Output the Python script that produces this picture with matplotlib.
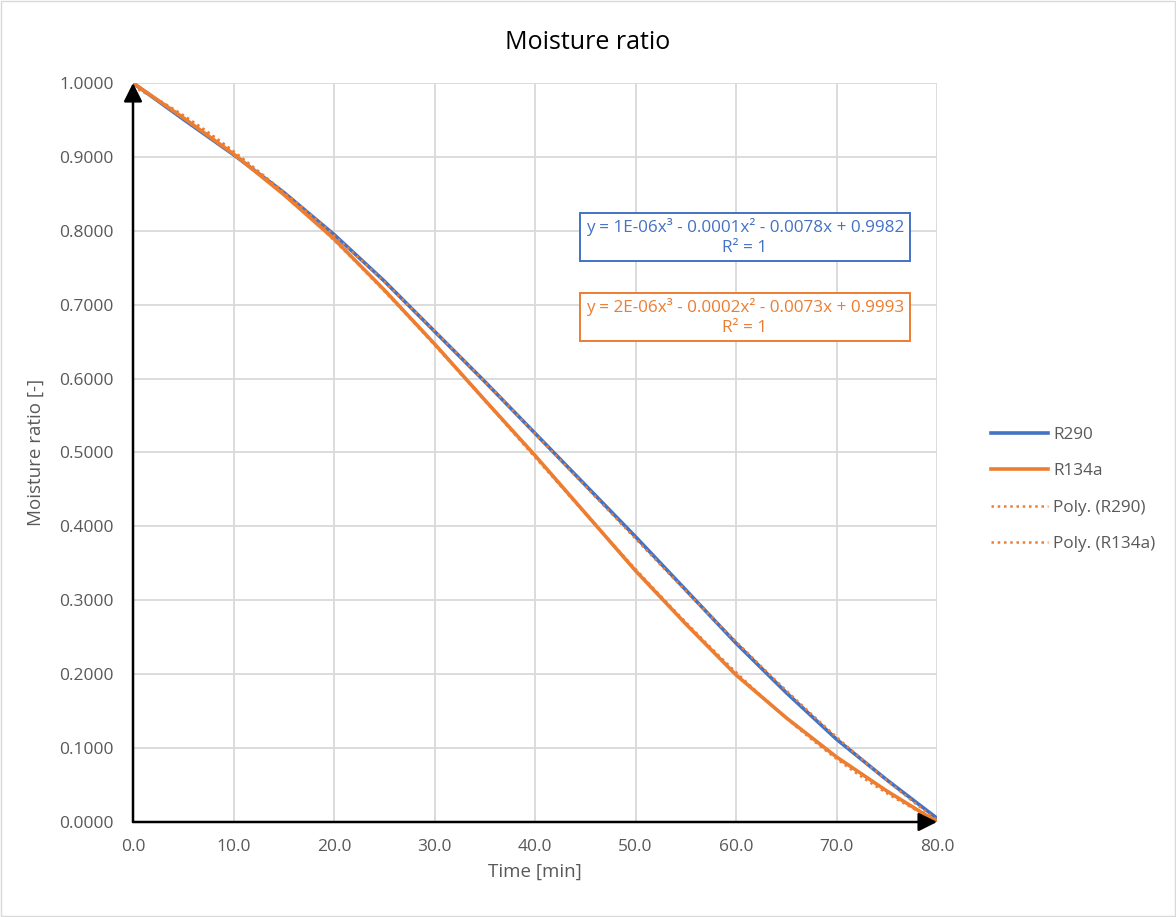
import matplotlib.pyplot as plt
import matplotlib.patches as mpatches
import numpy as np
from matplotlib.ticker import FormatStrFormatter, MultipleLocator

# drying time [min]
time_min = [0, 5, 10, 15, 20, 25, 30, 35, 40, 45, 50, 55, 60, 65, 70, 75, 80]

# moisture ratio for both refrigerants
mr_r290 = [1.000, 0.951, 0.903, 0.852, 0.795, 0.732, 0.664, 0.596, 0.526,
           0.456, 0.386, 0.314, 0.242, 0.175, 0.112, 0.057, 0.005]
mr_r134a = [1.000, 0.953, 0.904, 0.849, 0.789, 0.720, 0.647, 0.571, 0.496,
            0.418, 0.340, 0.268, 0.199, 0.141, 0.088, 0.042, 0.000]

eq_r290 = "y = 1E-06x³ - 0.0001x² - 0.0078x + 0.9982\nR² = 1"
eq_r134a = "y = 2E-06x³ - 0.0002x² - 0.0073x + 0.9993\nR² = 1"

BLUE = '#4472C4'
ORANGE = '#ED7D31'
GREY = '#595959'

plt.rcParams['font.family'] = ['Open Sans', 'DejaVu Sans']

fig = plt.figure(figsize=(11.76, 9.17), dpi=100)
ax = fig.add_axes([0.1131, 0.1036, 0.6837, 0.8059])

ax.plot(time_min, mr_r290, color=BLUE, lw=2.6, label='R290', zorder=3)
ax.plot(time_min, mr_r134a, color=ORANGE, lw=2.6, label='R134a', zorder=3)

# cubic trendlines
xs = np.linspace(0, 80, 300)
for series, name in [(mr_r290, 'Poly. (R290)'), (mr_r134a, 'Poly. (R134a)')]:
    coef = np.polyfit(time_min, series, 3)
    ax.plot(xs, np.polyval(coef, xs), color=ORANGE, lw=1.8, ls=(0, (1, 1.5)),
            label=name, zorder=4)

ax.set_xlim(0, 80)
ax.set_ylim(0, 1)
ax.xaxis.set_major_locator(MultipleLocator(10))
ax.yaxis.set_major_locator(MultipleLocator(0.1))
ax.xaxis.set_major_formatter(FormatStrFormatter('%.1f'))
ax.yaxis.set_major_formatter(FormatStrFormatter('%.4f'))
ax.grid(True, color='#d9d9d9', lw=1.3)
ax.set_axisbelow(True)
for s in ax.spines.values():
    s.set_visible(False)
ax.tick_params(length=0, labelsize=12.5, colors=GREY, pad=14)
ax.tick_params(axis='x', pad=12)

# axis arrows
arrow = dict(arrowstyle='-|>', color='black', lw=1.8, mutation_scale=28,
             shrinkA=0, shrinkB=0)
ax.annotate('', xy=(0, 1), xytext=(0, 0), xycoords='axes fraction',
            arrowprops=arrow, annotation_clip=False, zorder=5)
ax.annotate('', xy=(1, 0), xytext=(0, 0), xycoords='axes fraction',
            arrowprops=arrow, annotation_clip=False, zorder=5)

ax.set_xlabel('Time [min]', fontsize=13.5, color=GREY, labelpad=6)
ax.set_ylabel('Moisture ratio [-]', fontsize=13.5, color=GREY, labelpad=10)
fig.text(0.5, 0.954, 'Moisture ratio', ha='center', va='center',
         fontsize=18, color='black')

# trendline equation boxes
fig.text(745 / 1176, 1 - 237 / 917, eq_r290, ha='center', va='center',
         fontsize=12.3, color=BLUE, linespacing=1.25,
         bbox=dict(boxstyle='square,pad=0.35', fc='white', ec=BLUE, lw=1.4))
fig.text(745 / 1176, 1 - 317 / 917, eq_r134a, ha='center', va='center',
         fontsize=12.3, color=ORANGE, linespacing=1.25,
         bbox=dict(boxstyle='square,pad=0.35', fc='white', ec=ORANGE, lw=1.4))

fig.legend(loc='center left', bbox_to_anchor=(0.830, 0.466), frameon=False,
           fontsize=12.3, labelcolor=GREY, handlelength=3.3, handletextpad=0.3,
           labelspacing=1.2)

fig.add_artist(mpatches.Rectangle((0.001, 0.001), 0.998, 0.998,
                                  transform=fig.transFigure, fill=False,
                                  ec='#d9d9d9', lw=1))

plt.savefig('out.png', dpi=100)
